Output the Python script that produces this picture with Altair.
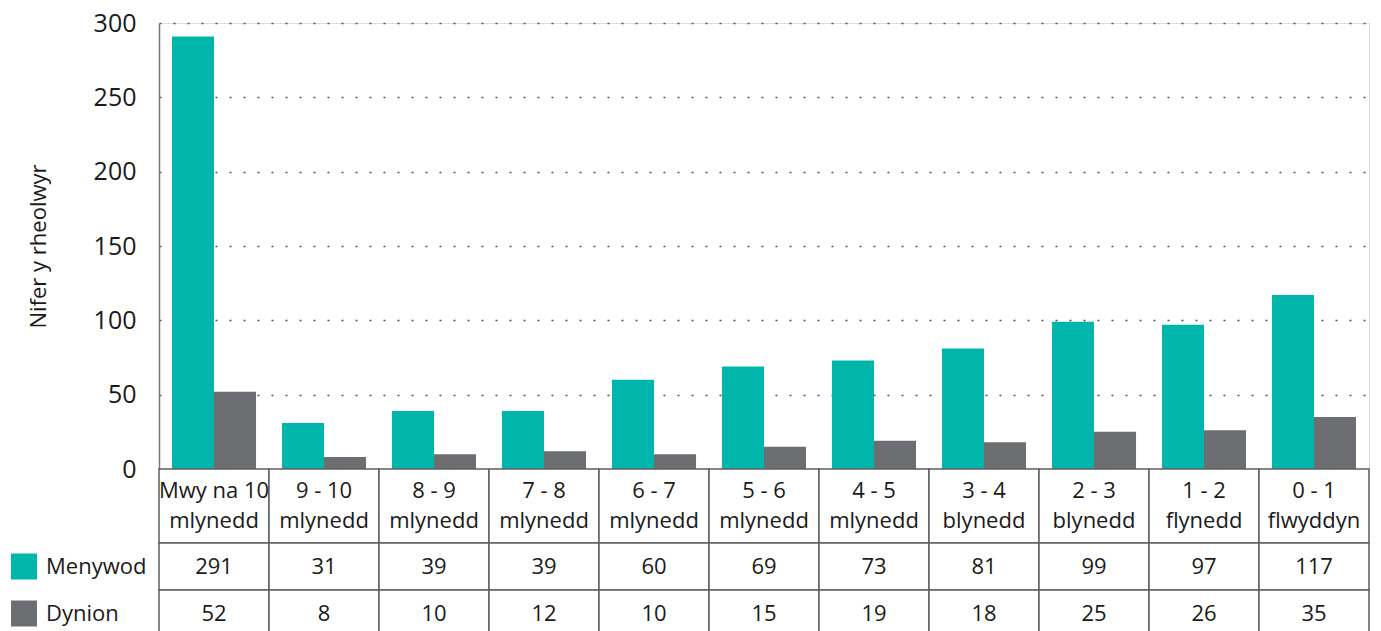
import altair as alt
import pandas as pd

categories = ["Mwy na 10\nmlynedd", "9 - 10\nmlynedd", "8 - 9\nmlynedd", "7 - 8\nmlynedd",
              "6 - 7\nmlynedd", "5 - 6\nmlynedd", "4 - 5\nmlynedd", "3 - 4\nblynedd",
              "2 - 3\nblynedd", "1 - 2\nflynedd", "0 - 1\nflwyddyn"]
series = ["Menywod", "Dynion"]
menywod = [291, 31, 39, 39, 60, 69, 73, 81, 99, 97, 117]
dynion = [52, 8, 10, 12, 10, 15, 19, 18, 25, 26, 35]
colors = ["#00B5A9", "#6D6E71"]
y_ticks = [0, 50, 100, 150, 200, 250, 300]

rows = []
for s, vals in zip(series, [menywod, dynion]):
    for c, v in zip(categories, vals):
        rows.append({"cat": c, "series": s, "value": v})
df = pd.DataFrame(rows)
cat_df = pd.DataFrame({"cat": categories})
leg_df = pd.DataFrame({"series": series})

FONT = "Open Sans"
TXT = "#1a1a1a"
LINE = "#5f5f5f"
W = 1210
color_scale = alt.Scale(domain=series, range=colors)

bars = alt.Chart(df).mark_bar().encode(
    x=alt.X("cat:N", sort=categories,
            scale=alt.Scale(paddingInner=0.236, paddingOuter=0.118), axis=None),
    xOffset=alt.XOffset("series:N", sort=series,
                        scale=alt.Scale(paddingInner=0, paddingOuter=0)),
    y=alt.Y("value:Q", scale=alt.Scale(domain=[0, 300], nice=False),
            axis=alt.Axis(values=y_ticks, title="Nifer y rheolwyr", ticks=False,
                          labelFontSize=25, labelColor=TXT, labelFont=FONT,
                          labelPadding=23, titleFontSize=22, titleFont=FONT,
                          titleFontWeight="normal", titleColor=TXT, titlePadding=43,
                          grid=True, gridDash=[2, 12], gridColor="#555", gridWidth=1.5,
                          domainColor="#777", domainWidth=1.5)),
    color=alt.Color("series:N", scale=color_scale, legend=None),
).properties(width=W, height=446)

hx = alt.X("cat:N", sort=categories, scale=alt.Scale(paddingInner=0, paddingOuter=0), axis=None)

header = alt.layer(
    alt.Chart(cat_df).mark_rect(fill="white", stroke=LINE, strokeWidth=1.5).encode(x=hx),
    alt.Chart(cat_df).mark_text(lineBreak="\n", fontSize=22, font=FONT, color=TXT,
                                baseline="middle", lineHeight=30, dy=-15).encode(x=hx, text="cat:N"),
).properties(width=W, height=74)

vy = alt.Y("series:N", sort=series, scale=alt.Scale(paddingInner=0, paddingOuter=0), axis=None)

values = alt.layer(
    alt.Chart(df).mark_rect(fill="white", stroke=LINE, strokeWidth=1.5).encode(x=hx, y=vy),
    alt.Chart(df).mark_text(fontSize=22, font=FONT, color=TXT).encode(x=hx, y=vy, text="value:Q"),
    alt.Chart(leg_df).mark_square(size=676, opacity=1).encode(
        x=alt.value(-135), y=vy,
        color=alt.Color("series:N", scale=color_scale, legend=None)),
    alt.Chart(leg_df).mark_text(align="left", fontSize=22, font=FONT, color=TXT).encode(
        x=alt.value(-113), y=vy, text="series:N"),
).properties(width=W, height=94)

chart = alt.vconcat(bars, header, values, spacing=0, bounds="flush").properties(
    padding={"left": 2, "top": 2, "right": 0, "bottom": 0}
).configure_view(stroke=None).configure(font=FONT)

chart.save("out.html", embed_options={"renderer": "svg", "actions": False})
